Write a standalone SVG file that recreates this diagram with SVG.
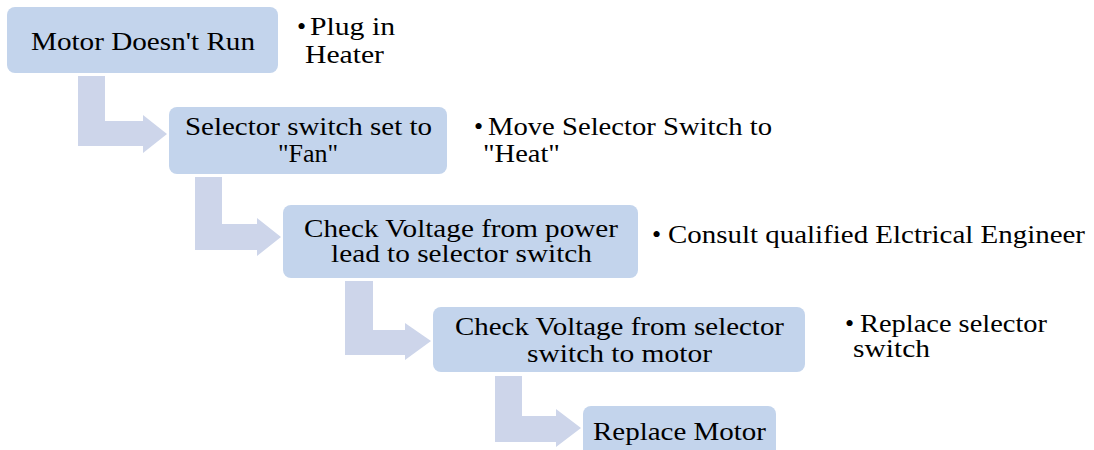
<svg xmlns="http://www.w3.org/2000/svg" width="1094" height="450" viewBox="0 0 1094 450">
<style>
.box{fill:#c3d4ec;}
.arr{fill:#cdd5ea;}
text{font-family:"Liberation Serif","Times New Roman",serif;font-size:26px;fill:#000;}
</style>
<rect width="1094" height="450" fill="#fff"/>
<g id="connectors">
<polygon class="arr" points="78,76 105,76 105,121 143,121 143,115 167,134 143,153 143,146 78,146"/>
<polygon class="arr" points="195,177 222,177 222,224 257,224 257,218 281,237 257,256 257,250 195,250"/>
<polygon class="arr" points="345,281 373,281 373,330 405,330 405,323 431,341 405,360 405,355 345,355"/>
<polygon class="arr" points="495,376 522,376 522,416 556,416 556,409 581,428 556,447 556,442 495,442"/>
</g>
<g id="n1"><rect class="box" x="7" y="7" width="271" height="66" rx="8"/>
<text x="31" y="50" textLength="224" lengthAdjust="spacingAndGlyphs">Motor Doesn't Run</text></g>
<g id="n2"><rect class="box" x="169" y="107" width="278" height="67" rx="8"/>
<text x="185" y="135" textLength="247" lengthAdjust="spacingAndGlyphs">Selector switch set to</text>
<text x="308" y="162" text-anchor="middle">"Fan"</text></g>
<g id="n3"><rect class="box" x="283" y="205" width="355" height="73" rx="8"/>
<text x="304" y="237" textLength="314" lengthAdjust="spacingAndGlyphs">Check Voltage from power</text>
<text x="331" y="262" textLength="261" lengthAdjust="spacingAndGlyphs">lead to selector switch</text></g>
<g id="n4"><rect class="box" x="433" y="307" width="372" height="65" rx="8"/>
<text x="455" y="335" textLength="329" lengthAdjust="spacingAndGlyphs">Check Voltage from selector</text>
<text x="527" y="362" textLength="185" lengthAdjust="spacingAndGlyphs">switch to motor</text></g>
<g id="n5"><rect class="box" x="583" y="406" width="193" height="60" rx="8"/>
<text x="593" y="440" textLength="173" lengthAdjust="spacingAndGlyphs">Replace Motor</text></g>
<g id="s1"><text x="297" y="35">•</text>
<text x="310" y="35" textLength="85" lengthAdjust="spacingAndGlyphs">Plug in</text>
<text x="305" y="63" textLength="79" lengthAdjust="spacingAndGlyphs">Heater</text></g>
<g id="s2"><text x="474" y="135">•</text>
<text x="488" y="135" textLength="284" lengthAdjust="spacingAndGlyphs">Move Selector Switch to</text>
<text x="483" y="162" textLength="77" lengthAdjust="spacingAndGlyphs">"Heat"</text></g>
<g id="s3"><text x="652" y="243">•</text>
<text x="668" y="243" textLength="417" lengthAdjust="spacingAndGlyphs">Consult qualified Elctrical Engineer</text></g>
<g id="s4"><text x="845" y="332">•</text>
<text x="860" y="332" textLength="187" lengthAdjust="spacingAndGlyphs">Replace selector</text>
<text x="853" y="357" textLength="77" lengthAdjust="spacingAndGlyphs">switch</text></g>
</svg>
